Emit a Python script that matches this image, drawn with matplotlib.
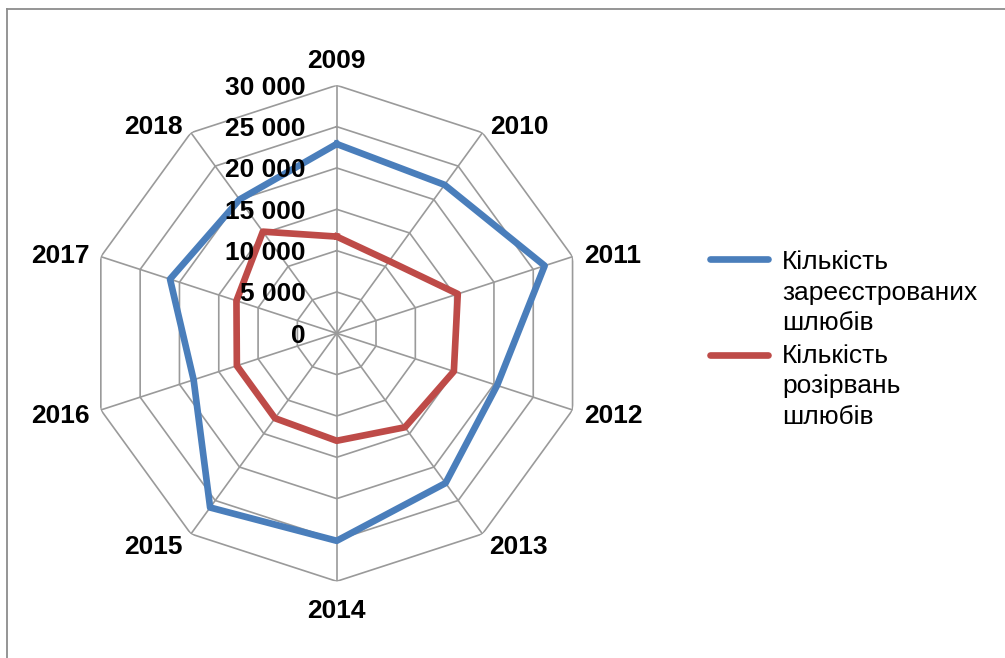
import numpy as np
import matplotlib
matplotlib.use("Agg")
import matplotlib.pyplot as plt
from matplotlib.lines import Line2D

plt.rcParams['font.family'] = ['Liberation Sans', 'DejaVu Sans']

categories = ['2009', '2010', '2011', '2012', '2013', '2014', '2015', '2016', '2017', '2018']
registered = [22900, 22200, 26450, 20400, 22400, 25100, 26050, 18200, 21200, 20000]
dissolved = [11700, 10800, 15400, 14900, 14050, 13000, 12700, 12700, 12750, 15200]
series_names = ["Кількість\nзареєстрованих\nшлюбів", "Кількість\nрозірвань\nшлюбів"]
ring_values = [0, 5000, 10000, 15000, 20000, 25000, 30000]
ring_labels = ['0', '5 000', '10 000', '15 000', '20 000', '25 000', '30 000']

blue = '#4A7EBB'
red = '#BE4B48'
grid_c = '#9A9A9A'
FS = 19

W, H = 1005, 658
fig = plt.figure(figsize=(W / 100, H / 100), dpi=100)
cx, cy, R = 336.7, 333.3, 248
ax = fig.add_axes([(cx - R) / W, (H - cy - R) / H, 2 * R / W, 2 * R / H], projection='polar')
ax.set_theta_zero_location('N')
ax.set_theta_direction(-1)
ax.set_ylim(0, ring_values[-1])
ax.grid(False)
ax.spines['polar'].set_visible(False)
ax.set_xticks([])
ax.set_yticks([])
ax.patch.set_alpha(0)

n = len(categories)
theta = np.linspace(0, 2 * np.pi, n, endpoint=False)
theta_c = np.append(theta, theta[0])

# polygon grid
for r in ring_values[1:]:
    ax.plot(theta_c, [r] * (n + 1), color=grid_c, lw=1.2, zorder=1)
for t in theta:
    ax.plot([t, t], [0, ring_values[-1]], color=grid_c, lw=1.2, zorder=1)

# series
ax.plot(theta_c, registered + registered[:1], color=blue, lw=4.8, solid_joinstyle='round', zorder=3)
ax.plot(theta_c, dissolved + dissolved[:1], color=red, lw=4.8, solid_joinstyle='round', zorder=3)

# radial labels
for r, lab in zip(ring_values, ring_labels):
    ax.annotate(lab, xy=(0, r), xytext=(-31, -9.5), textcoords='offset pixels',
                ha='right', va='baseline', fontsize=FS, fontweight='bold', zorder=5)

# category labels
offsets = [(0, 17.5, 'center'), (7.5, -1.8, 'left'), (11.5, -6.8, 'left'), (11.5, -13.5, 'left'),
           (6.5, -20.5, 'left'), (0, -36.5, 'center'), (-8, -20.5, 'right'), (-11, -13.5, 'right'),
           (-11, -6.8, 'right'), (-8, -1.8, 'right')]
for t, lab, (dx, dy, ha) in zip(theta, categories, offsets):
    ax.annotate(lab, xy=(t, ring_values[-1]), xytext=(dx, dy), textcoords='offset pixels',
                ha=ha, va='baseline', fontsize=FS, fontweight='bold', annotation_clip=False)

# legend (manual)
leg = [(blue, 259.3, [269, 300, 330], series_names[0]),
       (red, 355, [363, 393.5, 424], series_names[1])]
for col, ly, bases, name in leg:
    fig.add_artist(Line2D([710 / W, 768 / W], [1 - ly / H] * 2, transform=fig.transFigure,
                          color=col, lw=4.8, solid_capstyle='round'))
    for b, line in zip(bases, name.split('\n')):
        fig.text(782 / W, 1 - b / H, line, ha='left', va='baseline', fontsize=FS)

# outer frame
fig.add_artist(Line2D([6.5 / W, 1.0], [1 - 8.7 / H] * 2, transform=fig.transFigure, color='#8C8C8C', lw=1.3))
fig.add_artist(Line2D([6.5 / W] * 2, [1 - 8.7 / H, 0], transform=fig.transFigure, color='#8C8C8C', lw=1.3))

fig.savefig('out.png', dpi=100, facecolor='white')
